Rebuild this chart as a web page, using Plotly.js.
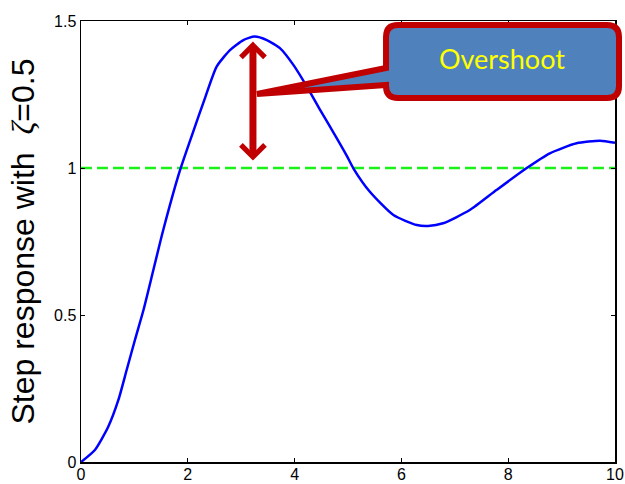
<!DOCTYPE html>
<html>
<head>
<meta charset="utf-8">
<script src="https://cdn.plot.ly/plotly-3.0.1.min.js"></script>
<style>html,body{margin:0;padding:0;background:#fff;}#chart{width:625px;height:484px;}</style>
</head>
<body>
<div id="chart"></div>
<script>
// Step response
var timeValues = [0, 0.26, 0.51, 0.70, 0.855, 1.01, 1.17, 1.355, 1.54, 1.85, 2.10, 2.32, 2.54, 2.79, 3.04, 3.25, 3.48, 3.73, 3.98, 4.23, 4.48, 4.72, 4.97, 5.10, 5.41, 5.85, 6.29, 6.50, 6.78, 7.28, 7.78, 8.34, 8.78, 9.28, 9.72, 10];
var responseValues = [0, 0.041, 0.12, 0.211, 0.313, 0.415, 0.517, 0.653, 0.789, 0.99, 1.123, 1.237, 1.345, 1.401, 1.435, 1.447, 1.435, 1.407, 1.35, 1.277, 1.197, 1.123, 1.044, 0.999, 0.919, 0.84, 0.806, 0.803, 0.812, 0.857, 0.925, 0.999, 1.05, 1.084, 1.093, 1.086];
var referenceX = [0, 10];
var referenceY = [1, 1];
var xTickVals = [0, 2, 4, 6, 8, 10];
var xTickText = ["0", "2", "4", "6", "8", "10"];
var yTickVals = [0, 0.5, 1, 1.5];
var yTickText = ["0", "0.5", "1", "1.5"];
var peakTime = 3.22;
var arrowTop = 1.43;
var arrowBottom = 1.02;
var calloutText = "Overshoot";
var yTitle = "Step response with&nbsp; <span style=\"font-family:'Liberation Serif',serif\"><i>ζ</i></span>=0.5";

var M = {l: 81, r: 10, t: 21, b: 22, W: 625, H: 484};
var pw = M.W - M.l - M.r, ph = M.H - M.t - M.b;
function P(x, y) { return ((x - M.l) / pw).toFixed(4) + ',' + ((M.H - M.b - y) / ph).toFixed(4); }

var calloutPath =
  'M' + P(398, 25) + ' L' + P(607, 25) +
  ' Q' + P(619, 25) + ' ' + P(619, 37) +
  ' L' + P(619, 86) +
  ' Q' + P(619, 98) + ' ' + P(607, 98) +
  ' L' + P(398, 98) +
  ' Q' + P(386, 98) + ' ' + P(386, 86) +
  ' L' + P(386, 85) + ' L' + P(257, 94) + ' L' + P(386, 68) +
  ' L' + P(386, 37) +
  ' Q' + P(386, 25) + ' ' + P(398, 25) + ' Z';

var traces = [
  {x: referenceX, y: referenceY, mode: 'lines', line: {color: '#1AF01A', width: 2.5, dash: '11px,5px'}, hoverinfo: 'skip'},
  {x: timeValues, y: responseValues, mode: 'lines', line: {color: '#0000FF', width: 2.5, shape: 'spline', smoothing: 0.6}}
];

var axisCommon = {showline: true, linecolor: '#000', linewidth: 1.5, mirror: 'ticks', ticks: 'inside', ticklen: 4, tickcolor: '#000', showgrid: false, zeroline: false, tickfont: {family: 'Liberation Sans, Arial, sans-serif', size: 16, color: '#000'}};

var layout = {
  width: M.W, height: M.H,
  margin: {l: M.l, r: M.r, t: M.t, b: M.b, pad: 0},
  paper_bgcolor: '#fff', plot_bgcolor: '#fff',
  showlegend: false,
  xaxis: Object.assign({}, axisCommon, {range: [0, 10], tickmode: 'array', tickvals: xTickVals, ticktext: xTickText, automargin: false, ticklabelstandoff: -3}),
  yaxis: Object.assign({}, axisCommon, {range: [0, 1.5], tickmode: 'array', tickvals: yTickVals, ticktext: yTickText, automargin: false,
    title: {text: yTitle, font: {family: 'Liberation Sans, Arial, sans-serif', size: 32, color: '#000'}, standoff: 10}}),
  shapes: [
    {type: 'path', xref: 'paper', yref: 'paper', path: calloutPath, fillcolor: '#4F81BD', line: {color: '#C00000', width: 6}, layer: 'above'}
  ],
  annotations: [
    {x: peakTime, y: arrowTop, ax: peakTime, ay: arrowBottom, xref: 'x', yref: 'y', axref: 'x', ayref: 'y', text: '', showarrow: true,
     arrowhead: 4, startarrowhead: 4, arrowside: 'end+start', arrowsize: 0.66, startarrowsize: 0.66, arrowwidth: 7, arrowcolor: '#C00000', standoff: 0, startstandoff: 0},
    {xref: 'paper', yref: 'paper', x: (502 - M.l) / pw, y: (M.H - M.b - 58) / ph, xanchor: 'center', yanchor: 'middle', showarrow: false,
     text: calloutText, font: {family: 'Lato, sans-serif', size: 27, color: '#FFFF00'}}
  ]
};

Plotly.newPlot('chart', traces, layout, {displayModeBar: false, staticPlot: true});
</script>
</body>
</html>
